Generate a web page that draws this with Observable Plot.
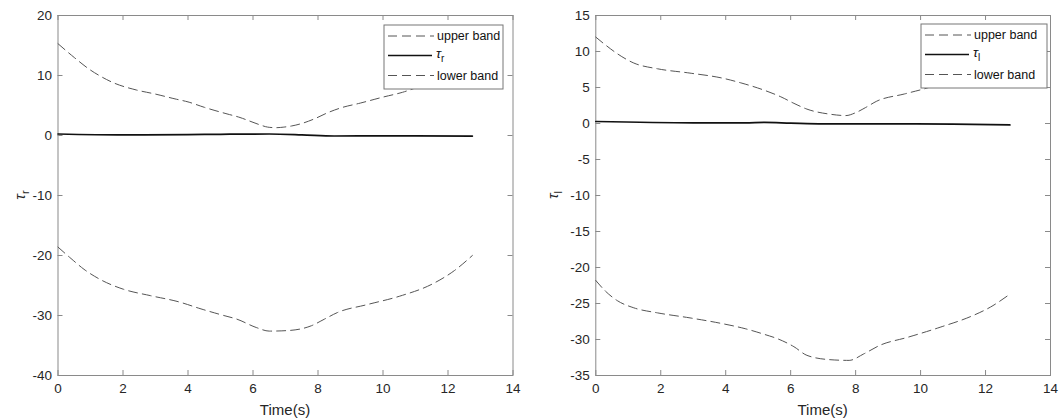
<!DOCTYPE html>
<html><head><meta charset="utf-8">
<script src="https://cdn.jsdelivr.net/npm/d3@7"></script>
<script src="https://cdn.jsdelivr.net/npm/@observablehq/plot@0.6"></script>
<style>
body{margin:0;background:#fff}
#wrap{display:flex;width:1059px;height:419px;overflow:hidden}
</style></head><body><div id="wrap"></div>
<script>
// ---- data ----
const xTicks = [0, 2, 4, 6, 8, 10, 12, 14];
const leftYTicks = [-40, -30, -20, -10, 0, 10, 20];
const rightYTicks = [-35, -30, -25, -20, -15, -10, -5, 0, 5, 10, 15];

const leftUpperT = [0, 0.5, 1.0, 1.3, 1.7, 2.4, 3.0, 3.6, 4.0, 4.5, 5.0, 5.2, 5.6, 5.9, 6.2, 6.45, 6.7, 6.95, 7.2, 7.5, 7.9, 8.3, 8.7, 9.3, 10.0, 10.6, 11.1, 11.6, 12.2, 12.75];
const leftUpperV = [15.3, 13.0, 10.9, 9.9, 8.8, 7.6, 6.9, 6.1, 5.6, 4.7, 3.9, 3.6, 3.0, 2.4, 1.8, 1.4, 1.3, 1.4, 1.6, 2.0, 2.8, 3.8, 4.6, 5.4, 6.4, 7.2, 8.1, 8.9, 9.8, 10.6];
const leftLowerT = [0, 0.4, 0.8, 1.3, 2.0, 2.85, 3.7, 4.4, 5.1, 5.5, 6.1, 6.5, 7.1, 7.8, 8.2, 8.6, 9.5, 10.5, 11.5, 12.2, 12.75];
const leftLowerV = [-18.6, -20.5, -22.3, -24.0, -25.6, -26.7, -27.7, -28.9, -30.0, -30.6, -32.0, -32.6, -32.5, -31.7, -30.6, -29.5, -28.2, -26.8, -24.8, -22.5, -20.0];
const leftMidT = [0, 2, 4, 5, 6.5, 7.5, 8.5, 10, 12.75];
const leftMidV = [0.25, 0.1, 0.15, 0.2, 0.25, 0.12, -0.08, -0.05, -0.1];

const rightUpperT = [0, 0.3, 0.66, 1.17, 1.9, 2.9, 3.9, 4.5, 5.2, 5.7, 6.1, 6.5, 7.2, 7.7, 8.0, 8.3, 8.65, 9.5, 10.1, 10.7, 11.3, 12.0, 12.75];
const rightUpperV = [12.0, 10.9, 9.7, 8.4, 7.6, 7.0, 6.3, 5.6, 4.6, 3.7, 2.8, 2.0, 1.3, 1.1, 1.5, 2.2, 3.1, 4.1, 4.8, 5.6, 6.3, 7.0, 7.8];
const rightLowerT = [0, 0.3, 0.66, 1.17, 1.9, 2.9, 3.9, 4.6, 5.2, 5.6, 6.1, 6.5, 7.2, 7.8, 8.25, 8.75, 9.6, 10.6, 11.6, 12.15, 12.75];
const rightLowerV = [-21.8, -23.3, -24.6, -25.6, -26.3, -27.0, -27.8, -28.5, -29.3, -29.9, -31.0, -32.2, -32.8, -32.9, -32.0, -30.8, -29.7, -28.3, -26.7, -25.5, -23.7];
const rightMidT = [0, 3, 4.6, 5.2, 6, 7, 9, 11, 12.75];
const rightMidV = [0.28, 0.1, 0.1, 0.15, 0.05, -0.05, -0.05, -0.1, -0.2];

const legendLabels = ["upper band", "lower band"];
const xLabel = "Time(s)";

// ---- drawing ----
const toRows = (T, V) => T.map((t, i) => ({t, v: V[i]}));
const FONT = "'Liberation Sans', Arial, sans-serif";
const AX = "#8a8a8a";
const DASH = "9,5";

function panel({width, ml, mr, yDomain, yTicks, upper, lower, mid, sub, leg}) {
  const H = 419, mt = 15, mb = 44, tk = 5;
  const plotH = H - mt - mb, plotW = width - ml - mr;
  const svg = Plot.plot({
    width, height: H, marginLeft: ml, marginRight: mr, marginTop: mt, marginBottom: mb,
    style: {fontFamily: FONT, fontSize: "13.5px", color: "#262626", background: "#fff", overflow: "visible"},
    x: {domain: [0, 14], label: null},
    y: {domain: yDomain, label: null},
    marks: [
      Plot.frame({stroke: AX}),
      Plot.tickX(xTicks, {x: d => d, insetTop: plotH - tk, stroke: AX}),
      Plot.tickX(xTicks, {x: d => d, insetBottom: plotH - tk, stroke: AX}),
      Plot.tickY(yTicks, {y: d => d, insetRight: plotW - tk, stroke: AX}),
      Plot.tickY(yTicks, {y: d => d, insetLeft: plotW - tk, stroke: AX}),
      Plot.axisX(xTicks, {tickSize: 0, tickPadding: 8, label: null, fontSize: 13.5, fill: "#262626", tickFormat: d => String(d)}),
      Plot.axisY(yTicks, {tickSize: 0, tickPadding: 6, label: null, fontSize: 13.5, fill: "#262626", tickFormat: d => String(d)}),
      Plot.line(upper, {x: "t", y: "v", stroke: "#555", strokeWidth: 1, strokeDasharray: DASH, curve: "monotone-x"}),
      Plot.line(lower, {x: "t", y: "v", stroke: "#555", strokeWidth: 1, strokeDasharray: DASH, curve: "monotone-x"}),
      Plot.line(mid, {x: "t", y: "v", stroke: "#111", strokeWidth: 1.7, curve: "monotone-x"})
    ]
  });
  const s = d3.select(svg);
  // x label
  s.append("text").attr("x", ml + plotW / 2).attr("y", 410).attr("dy", "0.35em")
    .attr("text-anchor", "middle").attr("font-size", 15).attr("fill", "#262626").text(xLabel);
  // y label
  const yl = s.append("text").attr("transform", `translate(${leg.ylx},195) rotate(-90)`)
    .attr("text-anchor", "middle").attr("font-size", 15).attr("fill", "#262626").attr("dy", "0.35em");
  yl.append("tspan").attr("font-style", "italic").text("τ");
  yl.append("tspan").attr("font-size", 11).attr("dy", 4).text(sub);
  // legend
  const g = s.append("g").attr("font-family", FONT).attr("font-size", 12.5).attr("fill", "#111").attr("text-anchor", "start");
  g.append("rect").attr("x", leg.x).attr("y", leg.y).attr("width", leg.w).attr("height", leg.h)
    .attr("fill", "#fff").attr("stroke", "#777").attr("stroke-width", 1);
  const rows = [leg.y + 11, leg.y + 30.5, leg.y + 50.5];
  const lx0 = leg.x + 4, lx1 = leg.x + 50;
  [[rows[0], legendLabels[0], true], [rows[1], null, false], [rows[2], legendLabels[1], true]].forEach(([yy, lab, dash]) => {
    const ln = g.append("line").attr("x1", lx0).attr("x2", lx1).attr("y1", yy).attr("y2", yy);
    if (dash) ln.attr("stroke", "#555").attr("stroke-width", 1).attr("stroke-dasharray", DASH);
    else ln.attr("stroke", "#111").attr("stroke-width", 1.7).attr("x2", lx1 - 2);
    if (lab) g.append("text").attr("x", lx1 + 3).attr("y", yy).attr("dy", "0.35em").attr("text-anchor", "start").text(lab);
    else {
      const t = g.append("text").attr("x", lx1 + 2).attr("y", yy).attr("dy", "0.2em").attr("text-anchor", "start");
      t.append("tspan").attr("font-style", "italic").attr("font-size", 13.5).text("τ");
      t.append("tspan").attr("font-size", 10).attr("dy", 4).text(sub);
    }
  });
  return svg;
}

const wrap = document.getElementById("wrap");
wrap.appendChild(panel({
  width: 530, ml: 57.5, mr: 17.5, yDomain: [-40, 20], yTicks: leftYTicks,
  upper: toRows(leftUpperT, leftUpperV), lower: toRows(leftLowerT, leftLowerV), mid: toRows(leftMidT, leftMidV),
  sub: "r", leg: {x: 384, y: 25, w: 119, h: 64, ylx: 20}
}));
wrap.appendChild(panel({
  width: 529, ml: 65.3, mr: 9, yDomain: [-35, 15], yTicks: rightYTicks,
  upper: toRows(rightUpperT, rightUpperV), lower: toRows(rightLowerT, rightLowerV), mid: toRows(rightMidT, rightMidV),
  sub: "l", leg: {x: 921 - 530, y: 24, w: 126, h: 64, ylx: 23}
}));
</script></body></html>
